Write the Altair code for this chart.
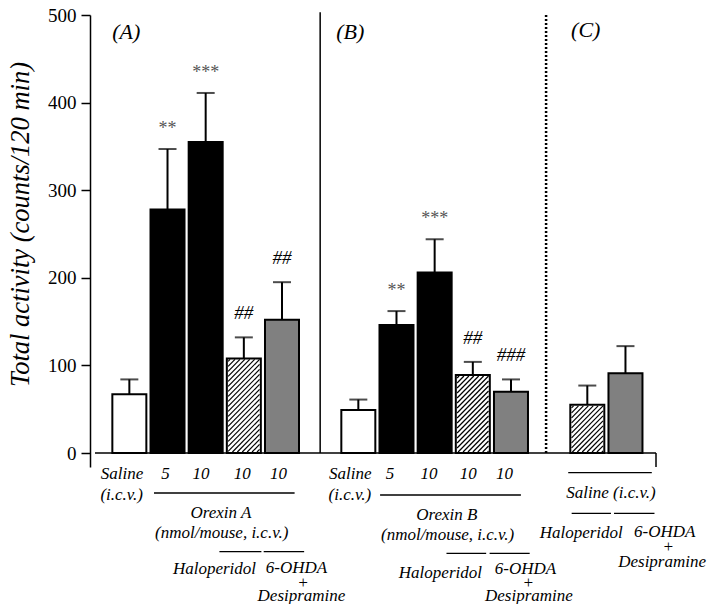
import altair as alt
import pandas as pd
import numpy as np

# ---- data ----
slots = [0, 1, 2, 3, 4, 6, 7, 8, 9, 10, 12, 13]
means = [67, 278, 355, 108, 152, 49, 146, 206, 89, 70, 55, 91]
sems = [17, 69, 56, 24, 43, 12, 16, 38, 15, 14, 22, 31]
kinds = ["saline", "orexin", "orexin", "halo", "ohda",
         "saline", "orexin", "orexin", "halo", "ohda",
         "halo", "ohda"]
signif = ["", "**", "***", "##", "##", "", "**", "***", "##", "###", "", ""]

panel_text = ["(A)", "(B)", "(C)"]
tick_values = [0, 100, 200, 300, 400, 500]

# ---- layout ----
TOP = 15          # page y of the plot top (value 500)
W, H = 571, 452
XD = [-0.9, 13.8]
YD = [-15.98, 500]
PX_X = W / (XD[1] - XD[0])
PX_Y = H / (YD[1] - YD[0])
BAR_PX = 34
FONT = "Liberation Serif"


def yv(page_y):  # page pixel -> data value
    return YD[1] - (page_y - TOP) / PX_Y


df = pd.DataFrame({"slot": slots, "mean": means, "sem": sems,
                   "kind": kinds, "sig": signif})
df["top"] = df["mean"] + df["sem"]
df["base"] = 0

xs = alt.Scale(domain=XD, nice=False, zero=False)
ys = alt.Scale(domain=YD, nice=False, zero=False)
YAX = alt.Axis(values=tick_values, grid=False, tickSize=9,
               tickWidth=1.5, domainWidth=1.5,
               domainColor="black", tickColor="black",
               labelColor="black", labelFont=FONT,
               labelFontSize=19, labelPadding=5,
               title="Total activity (counts/120 min)",
               titleFont=FONT, titleFontSize=26.5,
               titleFontStyle="italic", titleFontWeight="normal",
               titleColor="black", titleBaseline="alphabetic",
               titleX=-62, titleY=209)


def XX(f):
    return alt.X(f, scale=xs, axis=None)


def YY(f):
    return alt.Y(f, scale=ys, axis=YAX)


# hatch lines for the hatched bars (derived from bar values)
hat = []
for s, m, k in zip(slots, means, kinds):
    if k != "halo":
        continue
    cx = (s - XD[0]) * PX_X
    xl, xr = cx - BAR_PX / 2 + 1, cx + BAR_PX / 2 - 1
    yt, yb = (YD[1] - m) * PX_Y + 1, (YD[1] - 0) * PX_Y - 1
    for c in np.arange(xl + yt + 2, xr + yb, 5.0):
        a = max(xl, c - yb)
        b = min(xr, c - yt)
        if b - a < 0.5:
            continue
        hat.append({"x1": XD[0] + a / PX_X, "y1": YD[1] - (c - a) / PX_Y,
                    "x2": XD[0] + b / PX_X, "y2": YD[1] - (c - b) / PX_Y})
hat_df = pd.DataFrame(hat)

base = alt.Chart(df)

err = base.mark_rule(color="black", strokeWidth=2).encode(
    x=XX("slot:Q"), y=YY("mean:Q"), y2="top:Q")
cap = base.mark_tick(orient="horizontal", size=18, thickness=2,
                     color="black").encode(x=XX("slot:Q"), y=YY("top:Q"))
bars = base.mark_bar(size=BAR_PX, stroke="black", strokeWidth=2).encode(
    x=XX("slot:Q"), y=YY("mean:Q"), y2="base:Q",
    fill=alt.Fill("kind:N", legend=None,
                  scale=alt.Scale(domain=["saline", "orexin", "halo", "ohda"],
                                  range=["white", "black", "white", "#808080"])))
hatch = alt.Chart(hat_df).mark_rule(color="black", strokeWidth=1.2).encode(
    x=XX("x1:Q"), y=YY("y1:Q"), x2="x2:Q", y2="y2:Q")

stars = base.transform_filter("indexof(datum.sig, '*') >= 0").mark_text(
    font=FONT, fontSize=18, color="#555", baseline="middle", dy=-20
).encode(x=XX("slot:Q"), y=YY("top:Q"), text="sig:N")
hashes = base.transform_filter("indexof(datum.sig, '#') >= 0").mark_text(
    font=FONT, fontSize=19, fontStyle="italic", color="black",
    baseline="middle", dy=-24
).encode(x=XX("slot:Q"), y=YY("top:Q"), text="sig:N")

# frame lines: x-axis line, right end tick, solid separator
frame_df = pd.DataFrame({
    "x1": [XD[0], XD[1], 5.0],
    "x2": [XD[1], XD[1], 5.0],
    "y1": [0, 0, 0],
    "y2": [0, YD[0], 503],
})
frame = alt.Chart(frame_df).mark_rule(color="black", strokeWidth=1.5).encode(
    x=XX("x1:Q"), x2="x2:Q", y=YY("y1:Q"), y2="y2:Q")
dot_df = pd.DataFrame({"x1": [10.92], "y1": [0], "y2": [500]})
sep_dot = alt.Chart(dot_df).mark_rule(color="black", strokeWidth=2.5,
                                      strokeDash=[2, 2]).encode(
    x=XX("x1:Q"), y=YY("y1:Q"), y2="y2:Q")

# panel letters
panel_df = pd.DataFrame({"t": panel_text, "s": [-0.08, 5.79, 11.96],
                         "v": [yv(32), yv(32), yv(30)]})
panels = alt.Chart(panel_df).mark_text(
    font=FONT, fontSize=22, fontStyle="italic", color="black",
    baseline="middle").encode(x=XX("s:Q"), y=YY("v:Q"), text="t:N")

# labels under the axis (slot position, page y)
lab = [
    ("Saline", -0.19, 474), ("(i.c.v.)", -0.2, 495),
    ("5", 0.95, 474), ("10", 1.88, 474), ("10", 2.96, 474), ("10", 3.91, 474),
    ("Orexin A", 2.40, 513), ("(nmol/mouse, i.c.v.)", 2.42, 533),
    ("Haloperidol", 2.23, 569), ("6-OHDA", 4.38, 568), ("+", 4.55, 583),
    ("Desipramine", 4.51, 596),
    ("Saline", 5.79, 474), ("(i.c.v.)", 5.78, 495),
    ("5", 6.83, 474), ("10", 7.85, 474), ("10", 8.88, 474), ("10", 9.83, 474),
    ("Orexin B", 8.32, 515), ("(nmol/mouse, i.c.v.)", 8.34, 535),
    ("Haloperidol", 8.15, 573), ("6-OHDA", 10.38, 569), ("+", 10.45, 583),
    ("Desipramine", 10.47, 596),
    ("Saline (i.c.v.)", 12.62, 493), ("Haloperidol", 11.84, 533),
    ("6-OHDA", 14.03, 532), ("+", 14.12, 547), ("Desipramine", 13.96, 562),
]
lab_df = pd.DataFrame({"t": [a[0] for a in lab], "s": [a[1] for a in lab],
                       "v": [yv(a[2]) for a in lab]})
labels = alt.Chart(lab_df).mark_text(
    font=FONT, fontSize=17, fontStyle="italic", color="black",
    baseline="middle").encode(x=XX("s:Q"), y=YY("v:Q"), text="t:N")

lines = [
    (0.645, 4.33, 493), (2.36, 3.46, 551.7), (3.52, 4.58, 551.7),
    (6.57, 10.26, 495), (8.31, 9.35, 553.3), (9.44, 10.49, 553.3),
    (11.5, 13.69, 472.7), (11.59, 12.62, 513.3), (12.70, 13.76, 513.3),
]
ln_df = pd.DataFrame({"a": [l[0] for l in lines], "b": [l[1] for l in lines],
                      "v": [yv(l[2]) for l in lines]})
underl = alt.Chart(ln_df).mark_rule(color="black", strokeWidth=1.3).encode(
    x=XX("a:Q"), x2="b:Q", y=YY("v:Q"))

chart = alt.layer(
    err, cap, bars, hatch, stars, hashes, frame, sep_dot,
    panels, labels, underl
).properties(
    width=W, height=H,
    autosize=alt.AutoSizeParams(type="none"),
    padding={"left": 82, "top": TOP - 8, "right": 51,
             "bottom": 596 - (TOP - 8) - H},
).configure_view(stroke=None)

chart.save("out.html", embed_options={"renderer": "svg", "actions": False})
